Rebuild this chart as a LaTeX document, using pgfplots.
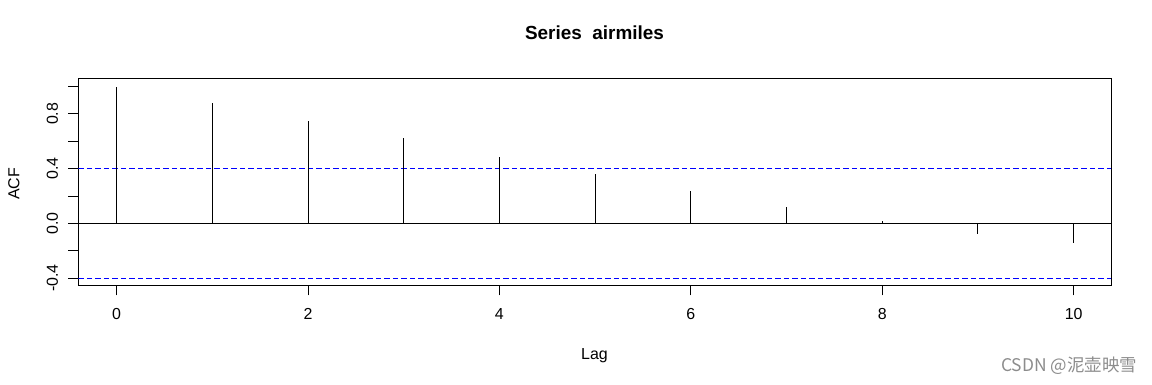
\documentclass[border=0pt]{standalone}
\usepackage{pgfplots}
\pgfplotsset{compat=1.18}
\usepackage{fontspec}
\setmainfont{Liberation Sans}
\newfontfamily\cjk{Noto Sans CJK SC}
\begin{document}
\begin{tikzpicture}[x=1bp,y=1bp]
\useasboundingbox (0,0) rectangle (1152,384);
\begin{axis}[at={(78.3bp,98.7bp)}, anchor=south west, scale only axis,
  width=1032.7bp, height=207bp,
  xmin=-0.40, xmax=10.39, ymin=-0.453, ymax=1.06,
  axis line style={black, line width=1bp},
  xtick={0,2,4,6,8,10}, xticklabels={0,2,4,6,8,10},
  ytick={-0.4,-0.2,0,0.2,0.4,0.6,0.8,1.0},
  yticklabels={-0.4,{},0.0,{},0.4,{},0.8,{}},
  tick align=outside, xtick pos=bottom, ytick pos=left, major tick length=10bp,
  tick style={black, line width=0.8bp},
  tick label style={font=\fontsize{16}{19}\selectfont},
  xticklabel style={anchor=north, inner sep=0pt},
  yticklabel style={rotate=90, anchor=south, inner sep=0pt},
  xticklabel shift=13bp, yticklabel shift=10bp,
]
\addplot[blue, line width=0.9bp, dash pattern=on 5.5bp off 3bp, forget plot] coordinates {(-0.40,0.4)(10.39,0.4)};
\addplot[blue, line width=0.9bp, dash pattern=on 5.5bp off 3bp, forget plot] coordinates {(-0.40,-0.4)(10.39,-0.4)};
\addplot[black, line width=1bp, forget plot] coordinates {(-0.40,0)(10.39,0)};
\addplot[ycomb, black, line width=1bp, no marks] coordinates {(0,1.0)(1,0.882)(2,0.748)(3,0.624)(4,0.487)(5,0.358)(6,0.236)(7,0.121)(8,0.017)(9,-0.076)(10,-0.146)};
\end{axis}
\node[anchor=base, font=\fontsize{19}{23}\selectfont\bfseries] at (594.5,344.7) {Series\ \ airmiles};
\node[anchor=base, font=\fontsize{16}{19}\selectfont] at (594.5,25) {Lag};
\node[rotate=90, anchor=center, font=\fontsize{16}{19}\selectfont] at (14,200.3) {ACF};
\node[anchor=center, font=\fontsize{17.5}{21}\selectfont\cjk, text=black!45] at (1069,18) {CSDN @泥壶映雪};
\end{tikzpicture}
\end{document}
